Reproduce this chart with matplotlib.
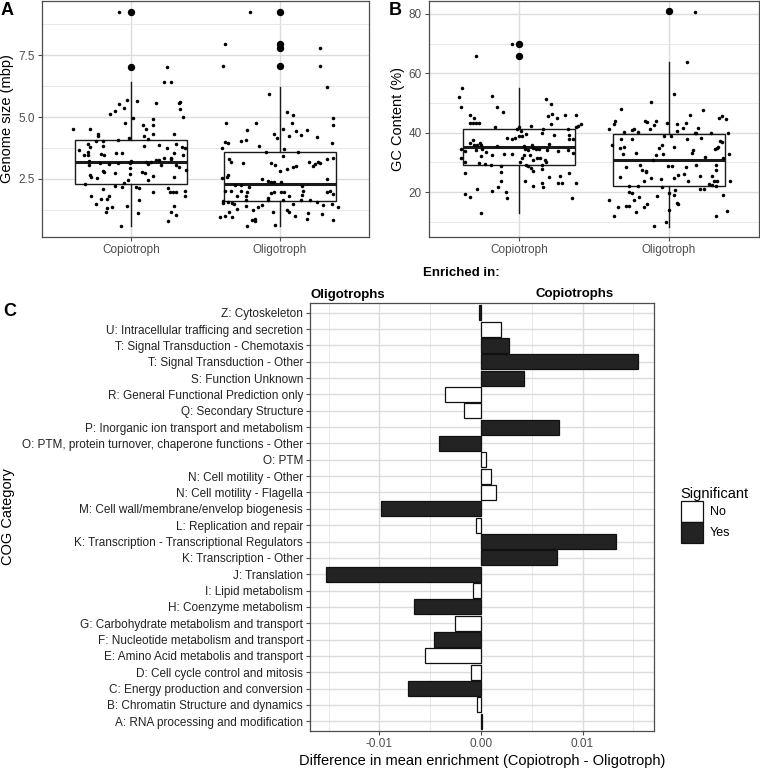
# -*- coding: utf-8 -*-
"""
Genome traits of copiotrophs vs oligotrophs (A, B) and COG category
enrichment differences (C). Values read off the published figure.
"""

import matplotlib
matplotlib.use("Agg")
import matplotlib.pyplot as plt
from matplotlib import font_manager
from matplotlib.patches import Patch
import numpy as np


# =============================================================================
# Settings
# =============================================================================

OUT_PNG = "out.png"

GROUPS = ["Copiotroph", "Oligotroph"]

# --- Panel A: genome size (mbp), jittered points ---------------------------
GENOME_COPIO = [
    9.26, 7.02, 6.42, 6.42, 5.69, 5.63, 5.58, 5.58, 5.62, 5.51,
    5.35, 5.24, 5.12, 5.32, 4.97, 4.99, 4.93, 4.74, 4.69, 4.52,
    4.52, 4.69, 4.53, 4.30, 4.23, 4.30, 4.23, 4.13, 4.33, 4.17,
    4.09, 4.03, 4.05, 3.91, 3.80, 3.82, 3.84, 3.86, 3.90, 3.75,
    3.80, 3.76, 3.67, 3.59, 3.48, 3.48, 3.51, 3.47, 3.53, 3.53,
    3.55, 3.45, 3.36, 3.36, 3.27, 3.25, 3.29, 3.19, 3.24, 3.06,
    3.12, 3.10, 3.15, 3.13, 3.21, 3.09, 3.19, 3.04, 3.04, 2.97,
    2.84, 2.93, 2.81, 2.76, 2.73, 2.78, 2.73, 2.66, 2.58, 2.55,
    2.70, 2.62, 2.46, 2.59, 2.46, 2.35, 2.30, 2.22, 2.15, 2.15,
    2.11, 2.10, 1.98, 2.11, 1.96, 1.95, 1.98, 2.02, 1.79, 1.81,
    1.79, 1.69, 1.67, 1.65, 1.49, 1.34, 1.30, 1.16, 1.42, 1.41,
    1.17, 1.05, 1.10, 0.78, 0.58,
]
GENOME_COPIO_JITTER = [
    -0.08, 0.24, 0.22, 0.27, -0.03, 0.04, 0.17, 0.32, 0.33, -0.08,
    -0.045, -0.11, -0.14, 0.33, 0.01, 0.35, 0.15, -0.04, 0.15, -0.39,
    -0.28, 0.08, 0.10, -0.22, -0.22, 0.15, 0.085, 0.11, 0.29, -0.015,
    -0.09, -0.24, -0.19, -0.29, -0.28, -0.19, 0.085, 0.19, 0.30, 0.24,
    0.34, 0.36, -0.35, -0.29, -0.32, -0.29, -0.20, -0.18, -0.10, -0.06,
    0.29, 0.35, 0.27, 0.22, 0.19, 0.17, 0.27, 0.13, -0.285, -0.285,
    -0.21, -0.15, -0.09, -0.01, 0.0, 0.11, 0.10, 0.20, 0.30, 0.32,
    0.37, -0.01, -0.19, -0.18, -0.11, 0.07, 0.09, -0.28, -0.27, -0.23,
    -0.01, 0.15, 0.11, 0.29, -0.02, -0.045, -0.31, -0.11, -0.06, 0.03,
    0.05, -0.19, 0.15, 0.25, 0.26, 0.28, 0.30, 0.36, 0.36, -0.27,
    -0.15, -0.20, -0.16, 0.05, -0.24, -0.13, -0.16, -0.17, -0.03, 0.29,
    0.27, 0.30, 0.045, 0.25, -0.07,
]
GENOME_OLIGO = [
    9.23, 7.97, 7.80, 7.06, 7.08, 6.20, 5.95, 5.20, 5.09, 4.96,
    4.77, 4.77, 4.77, 4.66, 4.48, 4.50, 4.44, 4.46, 4.30, 4.23,
    4.26, 4.17, 4.18, 4.03, 4.09, 3.99, 3.94, 3.96, 3.76, 3.82,
    3.72, 3.58, 3.60, 3.43, 3.29, 3.19, 3.16, 3.13, 3.05, 2.97,
    3.00, 3.20, 3.02, 3.10, 3.20, 3.16, 3.32, 3.36, 2.88, 2.81,
    2.67, 2.59, 2.53, 2.50, 2.51, 2.42, 2.38, 2.37, 2.39, 2.24,
    2.26, 2.00, 2.00, 1.99, 1.95, 2.16, 1.81, 1.79, 1.92, 1.95,
    1.95, 1.95, 2.19, 1.99, 1.84, 1.98, 1.99, 1.90, 1.72, 1.65,
    1.65, 1.79, 1.59, 1.57, 1.52, 1.52, 1.48, 1.63, 1.64, 1.63,
    1.55, 1.45, 1.48, 1.36, 1.29, 1.41, 1.37, 1.44, 1.25, 1.25,
    1.49, 1.14, 1.14, 1.16, 0.95, 0.97, 0.98, 0.98, 1.10, 0.89,
    1.09, 0.85, 0.89, 0.79, 0.85, 0.58, 0.63,
]
GENOME_OLIGO_JITTER = [
    -0.20, -0.37, 0.27, -0.38, 0.27, 0.32, -0.07, 0.05, 0.09, 0.36,
    -0.36, -0.16, 0.085, 0.36, -0.22, 0.02, 0.11, 0.18, -0.04, 0.06,
    0.145, -0.02, 0.25, -0.26, -0.23, -0.37, -0.35, 0.35, -0.39, -0.14,
    0.03, -0.09, 0.12, 0.02, -0.34, -0.33, -0.25, -0.06, -0.03, 0.09,
    0.11, 0.195, 0.22, 0.24, 0.255, 0.27, 0.32, 0.36, 0.05, 0.0,
    -0.35, -0.355, -0.39, 0.32, -0.12, -0.08, -0.06, -0.04, 0.01, -0.30,
    -0.26, -0.37, -0.33, -0.26, -0.22, -0.21, -0.29, -0.23, -0.06, -0.04,
    0.01, 0.03, 0.15, 0.155, 0.15, 0.32, 0.34, 0.36, -0.08, -0.08,
    0.02, 0.06, -0.38, -0.35, -0.38, -0.32, -0.31, -0.23, 0.14, 0.20,
    0.25, 0.29, 0.35, 0.39, -0.29, -0.23, -0.15, -0.12, -0.18, 0.05,
    0.09, 0.06, -0.045, -0.34, -0.32, -0.40, -0.37, 0.10, 0.19, 0.18,
    0.285, 0.36, -0.17, -0.17, -0.19, -0.22, -0.03,
]

# boxplot summaries (Copiotroph, Oligotroph)
GENOME_WHISKER_LO = [0.58, 0.58]
GENOME_Q1 = [2.31, 1.61]
GENOME_MEDIAN = [3.20, 2.28]
GENOME_Q3 = [4.09, 3.57]
GENOME_WHISKER_HI = [6.42, 6.20]
GENOME_OUTLIERS = [[7.02, 9.26], [7.07, 7.80, 7.97, 9.23]]

# --- Panel B: GC content (%) -----------------------------------------------
GC_COPIO = [
    70.0, 65.9, 55.0, 52.1, 52.3, 48.6, 48.7, 51.2, 49.7, 46.8,
    45.9, 45.7, 46.2, 44.9, 46.0, 45.9, 44.9, 43.3, 43.3, 43.3,
    43.3, 42.9, 41.8, 42.3, 41.2, 41.8, 41.2, 41.2, 42.0, 42.3,
    42.9, 40.5, 39.4, 39.9, 39.1, 39.3, 38.2, 37.9, 38.1, 39.0,
    38.9, 37.9, 37.8, 37.7, 36.6, 36.6, 35.9, 35.9, 36.0, 36.2,
    35.4, 35.5, 35.8, 35.0, 34.6, 33.8, 34.2, 34.6, 33.5, 34.4,
    34.2, 34.4, 34.5, 34.2, 33.9, 34.1, 33.3, 32.4, 32.9, 32.8,
    32.4, 32.4, 31.4, 31.4, 30.9, 31.6, 32.2, 31.4, 30.0, 30.2,
    30.7, 30.0, 29.8, 29.3, 29.1, 28.9, 29.1, 28.7, 28.1, 29.2,
    27.2, 27.9, 26.9, 26.3, 26.3, 25.2, 25.3, 23.8, 23.6, 23.0,
    21.8, 23.0, 23.0, 23.0, 21.9, 21.8, 20.3, 21.2, 20.0, 19.2,
    18.3, 18.0, 18.0, 12.9,
]
GC_COPIO_JITTER = [
    -0.05, -0.285, -0.38, -0.40, -0.18, -0.39, -0.15, 0.18, 0.215, -0.105,
    -0.33, 0.19, 0.22, 0.255, 0.305, 0.38, -0.30, -0.325, -0.31, -0.29,
    -0.27, 0.21, -0.16, 0.08, 0.16, 0.0, -0.015, 0.325, 0.38, 0.39,
    0.41, 0.01, 0.045, 0.15, 0.23, 0.33, -0.08, -0.05, -0.03, 0.0,
    0.02, 0.33, 0.36, -0.31, -0.325, -0.26, -0.30, -0.28, -0.255, 0.20,
    -0.15, 0.03, 0.085, 0.09, -0.385, -0.36, -0.29, -0.25, -0.22, 0.04,
    0.06, 0.11, 0.135, 0.185, 0.26, 0.325, 0.36, -0.18, -0.10, -0.045,
    0.035, 0.07, 0.12, 0.14, 0.17, 0.02, -0.255, -0.385, -0.36, 0.005,
    0.09, 0.18, -0.27, -0.225, -0.19, -0.12, 0.045, 0.06, 0.08, 0.155,
    0.095, 0.155, -0.12, -0.36, 0.33, 0.20, 0.275, -0.12, 0.04, 0.15,
    0.16, 0.26, 0.285, 0.38, 0.09, -0.14, -0.18, -0.28, -0.09, -0.36,
    -0.325, -0.08, 0.35, -0.255,
]
GC_OLIGO = [
    80.7, 63.9, 53.0, 50.4, 48.0, 47.6, 46.0, 45.1, 45.7, 44.7,
    44.0, 42.9, 41.3, 44.0, 43.6, 44.0, 43.3, 42.7, 43.0, 43.2,
    41.5, 41.5, 41.2, 40.9, 41.4, 40.2, 40.2, 40.4, 39.9, 39.9,
    40.0, 40.0, 38.9, 38.8, 37.8, 38.0, 38.0, 38.2, 37.3, 36.9,
    35.9, 34.8, 35.1, 35.0, 36.0, 35.3, 34.2, 33.1, 34.4, 34.9,
    35.1, 32.8, 33.1, 32.4, 32.8, 31.9, 31.6, 32.8, 30.7, 28.4,
    29.1, 28.9, 28.9, 28.3, 29.2, 29.0, 27.3, 27.2, 26.6, 25.9,
    26.2, 25.4, 25.4, 27.3, 25.2, 24.6, 24.3, 24.7, 23.9, 23.8,
    23.8, 23.6, 22.8, 22.5, 21.9, 23.6, 21.9, 22.0, 21.7, 20.8,
    20.9, 20.9, 19.9, 19.8, 19.8, 18.8, 19.0, 19.1, 17.5, 18.5,
    17.2, 16.2, 16.1, 16.1, 14.9, 15.2, 15.2, 14.9, 14.0, 13.4,
    13.5, 12.1, 11.8, 9.9, 8.5,
]
GC_OLIGO_JITTER = [
    0.175, 0.12, 0.035, -0.12, -0.32, 0.225, 0.14, 0.33, 0.355, 0.38,
    -0.36, -0.37, -0.40, -0.16, -0.145, -0.09, -0.015, -0.10, 0.05, 0.115,
    0.09, 0.19, -0.125, -0.25, -0.235, -0.30, -0.21, 0.05, 0.17, 0.18,
    0.28, 0.39, -0.035, 0.01, -0.32, -0.25, 0.12, 0.21, 0.34, 0.355,
    -0.38, -0.33, -0.30, -0.07, -0.05, 0.035, 0.16, 0.15, 0.305, 0.32,
    0.325, -0.31, -0.22, -0.09, -0.04, 0.24, 0.36, 0.40, -0.11, -0.29,
    -0.195, -0.01, 0.02, 0.11, 0.18, 0.31, -0.18, -0.155, -0.155, 0.06,
    0.10, 0.205, 0.285, 0.31, -0.33, -0.12, -0.055, 0.03, 0.125, -0.165,
    0.30, 0.32, 0.265, 0.285, 0.31, 0.405, -0.265, -0.205, -0.05, 0.04,
    0.205, 0.23, -0.27, -0.25, 0.0, -0.08, 0.03, 0.36, -0.40, -0.20,
    -0.235, 0.055, 0.06, -0.15, -0.34, -0.29, -0.27, -0.165, 0.0, -0.22,
    0.385, -0.365, 0.31, -0.02, -0.10,
]

GC_WHISKER_LO = [13.1, 8.2]
GC_Q1 = [29.1, 22.0]
GC_MEDIAN = [35.1, 30.9]
GC_Q3 = [41.2, 39.6]
GC_WHISKER_HI = [54.9, 63.9]
GC_OUTLIERS = [[65.9, 70.0], [80.9]]

# --- Panel C: COG enrichment difference (top to bottom) --------------------
COG_CATEGORIES = [
    "Z: Cytoskeleton",
    "U: Intracellular trafficing and secretion",
    "T: Signal Transduction - Chemotaxis",
    "T: Signal Transduction - Other",
    "S: Function Unknown",
    "R: General Functional Prediction only",
    "Q: Secondary Structure",
    "P: Inorganic ion transport and metabolism",
    "O: PTM, protein turnover, chaperone functions - Other",
    "O: PTM",
    "N: Cell motility - Other",
    "N: Cell motility - Flagella",
    "M: Cell wall/membrane/envelop biogenesis",
    "L: Replication and repair",
    "K: Transcription - Transcriptional Regulators",
    "K: Transcription - Other",
    "J: Translation",
    "I: Lipid metabolism",
    "H: Coenzyme metabolism",
    "G: Carbohydrate metabolism and transport",
    "F: Nucleotide metabolism and transport",
    "E: Amino Acid metabolis and transport",
    "D: Cell cycle control and mitosis",
    "C: Energy production and conversion",
    "B: Chromatin Structure and dynamics",
    "A: RNA processing and modification",
]
COG_DIFF = [
    -0.0002, 0.0020, 0.0028, 0.0155, 0.0042, -0.0035, -0.0017, 0.0077,
    -0.0041, 0.0005, 0.0010, 0.0015, -0.0098, -0.0005, 0.0133, 0.0075,
    -0.0153, -0.0008, -0.0066, -0.0026, -0.0046, -0.0055, -0.0010,
    -0.0072, -0.0004, 0.0001,
]
COG_SIGNIFICANT = [
    "Yes", "No", "Yes", "Yes", "Yes", "No", "No", "Yes",
    "Yes", "No", "No", "No", "Yes", "No", "Yes", "Yes",
    "Yes", "No", "Yes", "No", "Yes", "No", "No",
    "Yes", "No", "Yes",
]

SIG_COLORS = {"No": "white", "Yes": "#232323"}

GRID_MAJOR = "#DCDCDC"
GRID_MINOR = "#E8E8E8"
BORDER = "#4D4D4D"
TICK_TEXT = "#4D4D4D"

FIG_W, FIG_H = 760, 768


def px_axes(fig, left, top, right, bottom):
    """Add axes given pixel edges of the panel."""
    return fig.add_axes([
        left / FIG_W,
        1 - bottom / FIG_H,
        (right - left) / FIG_W,
        (bottom - top) / FIG_H,
    ])


def expanded(lo, hi, frac=0.05):
    span = hi - lo
    return lo - frac * span, hi + frac * span


def style_frame(ax):
    for sp in ax.spines.values():
        sp.set_color(BORDER)
        sp.set_linewidth(0.9)
    ax.tick_params(which="major", length=3, width=0.8, color=BORDER,
                   labelcolor=TICK_TEXT, labelsize=8.5, pad=2)
    ax.tick_params(which="minor", length=0)
    ax.grid(True, which="major", color=GRID_MAJOR, linewidth=1.0)
    ax.grid(True, which="minor", color=GRID_MINOR, linewidth=0.7)
    ax.set_axisbelow(True)


def box_panel(ax, values, jitters, lo, q1, med, q3, hi, outliers,
              ylabel, major, minor):
    stats = []
    for i in range(len(GROUPS)):
        stats.append({
            "whislo": lo[i], "q1": q1[i], "med": med[i], "q3": q3[i],
            "whishi": hi[i], "fliers": outliers[i],
        })
    ax.bxp(
        stats, positions=[1, 2], widths=0.75, patch_artist=True,
        showcaps=False,
        boxprops=dict(facecolor="white", edgecolor="#1A1A1A", linewidth=1.0),
        medianprops=dict(color="#1A1A1A", linewidth=2.2),
        whiskerprops=dict(color="#1A1A1A", linewidth=1.0),
        flierprops=dict(marker="o", markerfacecolor="black",
                        markeredgecolor="black", markersize=4.3),
        zorder=2,
    )
    for i, (vals, jit) in enumerate(zip(values, jitters)):
        n = min(len(vals), len(jit))
        ax.scatter(np.array(jit[:n]) + i + 1, vals[:n], s=6.5,
                   color="black", linewidths=0, zorder=3)

    all_vals = np.concatenate([np.asarray(v) for v in values])
    ax.set_ylim(*expanded(all_vals.min(), all_vals.max()))
    ax.set_xlim(0.4, 2.6)
    ax.set_xticks([1, 2])
    ax.set_xticklabels(GROUPS)
    ax.set_yticks(major)
    ax.set_yticks(minor, minor=True)
    ax.set_ylabel(ylabel, fontsize=10.5, labelpad=3)
    style_frame(ax)


def main():
    plt.rcParams.update({
        "font.family": ["Liberation Sans", "DejaVu Sans"],
        "font.size": 9,
    })

    names = {f.name for f in font_manager.fontManager.ttflist}
    narrow = "Liberation Sans Narrow" if "Liberation Sans Narrow" in names \
        else "Liberation Sans"

    fig = plt.figure(figsize=(FIG_W / 100, FIG_H / 100), dpi=100)

    # ---- A
    ax_a = px_axes(fig, 42, 1, 369, 237)
    box_panel(ax_a, [GENOME_COPIO, GENOME_OLIGO],
              [GENOME_COPIO_JITTER, GENOME_OLIGO_JITTER],
              GENOME_WHISKER_LO, GENOME_Q1, GENOME_MEDIAN, GENOME_Q3,
              GENOME_WHISKER_HI, GENOME_OUTLIERS,
              "Genome size (mbp)", [2.5, 5.0, 7.5], [1.25, 3.75, 6.25, 8.75])
    ax_a.set_yticklabels(["2.5", "5.0", "7.5"])

    # ---- B
    ax_b = px_axes(fig, 429, 1, 759, 237)
    box_panel(ax_b, [GC_COPIO, GC_OLIGO], [GC_COPIO_JITTER, GC_OLIGO_JITTER],
              GC_WHISKER_LO, GC_Q1, GC_MEDIAN, GC_Q3, GC_WHISKER_HI,
              GC_OUTLIERS, "GC Content (%)", [20, 40, 60, 80],
              [10, 30, 50, 70])

    # ---- C
    ax_c = px_axes(fig, 310, 303, 654, 731)
    y = np.arange(len(COG_CATEGORIES))
    ax_c.barh(y, COG_DIFF, height=0.92,
              color=[SIG_COLORS[s] for s in COG_SIGNIFICANT],
              edgecolor="#111111", linewidth=0.9, zorder=2)
    ax_c.set_ylim(len(COG_CATEGORIES) - 0.4, -0.6)
    ax_c.set_xlim(*expanded(min(COG_DIFF), max(COG_DIFF)))
    ax_c.set_yticks(y)
    ax_c.set_yticklabels(COG_CATEGORIES, family=narrow, fontsize=9,
                         color="#222222")
    ax_c.set_xticks([-0.01, 0.0, 0.01])
    ax_c.set_xticklabels(["-0.01", "0.00", "0.01"])
    ax_c.set_xticks([-0.015, -0.005, 0.005, 0.015], minor=True)
    style_frame(ax_c)
    ax_c.tick_params(axis="y", labelcolor="#222222")
    ax_c.set_xlabel("Difference in mean enrichment (Copiotroph - Oligotroph)",
                    fontsize=10.5, labelpad=3)
    ax_c.set_ylabel("COG Category", fontsize=10.5)
    ax_c.yaxis.set_label_coords(-295 / 344, 0.5)

    handles = [Patch(facecolor=SIG_COLORS[k], edgecolor="#111111",
                     linewidth=0.9, label=k) for k in ["No", "Yes"]]
    fig.legend(handles=handles, title="Significant",
               loc="upper left",
               bbox_to_anchor=(672 / FIG_W, 1 - 478 / FIG_H),
               frameon=False, fontsize=9, title_fontsize=10.5,
               handlelength=1.75, handleheight=2.2, labelspacing=0.0,
               handletextpad=0.6, alignment="left", borderpad=0.2)

    # panel tags and enrichment annotations
    fig.text(1 / FIG_W, 1 - 2 / FIG_H, "A", fontsize=13, weight="bold",
             va="top", ha="left")
    fig.text(389 / FIG_W, 1 - 2 / FIG_H, "B", fontsize=13, weight="bold",
             va="top", ha="left")
    fig.text(3 / FIG_W, 1 - 303 / FIG_H, "C", fontsize=13, weight="bold",
             va="top", ha="left")
    fig.text(461 / FIG_W, 1 - 273 / FIG_H, "Enriched in:", fontsize=9.5,
             weight="bold", ha="center", va="center")
    fig.text(348 / FIG_W, 1 - 295 / FIG_H, "Oligotrophs", fontsize=9.5,
             weight="bold", ha="center", va="center")
    fig.text(575 / FIG_W, 1 - 294 / FIG_H, "Copiotrophs", fontsize=9.5,
             weight="bold", ha="center", va="center")

    fig.savefig(OUT_PNG, dpi=100)
    plt.close(fig)


if __name__ == "__main__":
    main()
